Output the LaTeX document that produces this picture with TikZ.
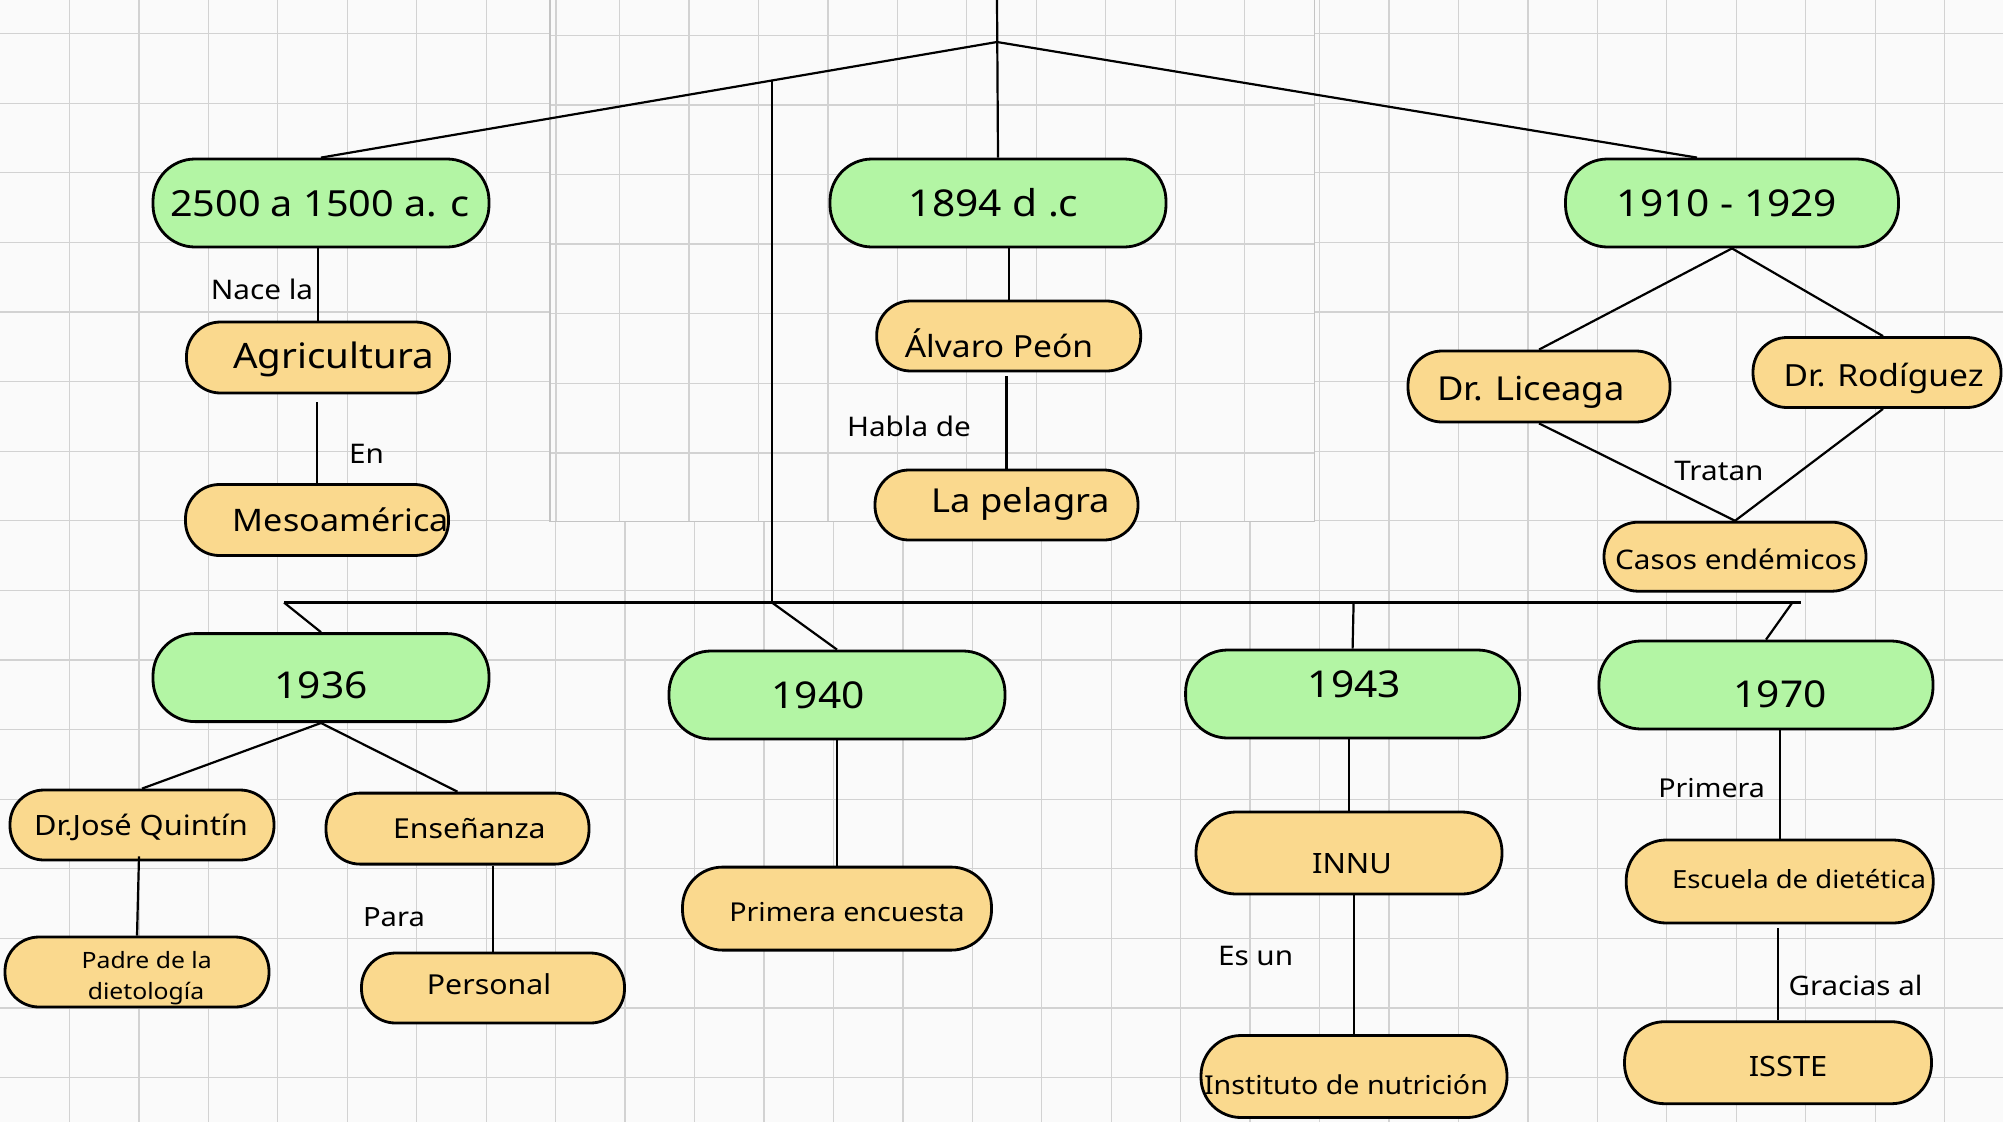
\documentclass[tikz,border=0pt]{standalone}
\usepackage{fontspec}
\setmainfont{Noto Sans}[FakeStretch=1.1]
\usetikzlibrary{calc}
\definecolor{gfill}{HTML}{B3F5A4}
\definecolor{ofill}{HTML}{FAD98E}
\definecolor{gridc}{HTML}{D2D2D2}
\definecolor{edgec}{HTML}{C4C4C4}
\definecolor{bgc}{HTML}{FAFAFA}
\newcommand\fsz[1]{\fontsize{#1}{#1}\selectfont}
\tikzset{
  gridline/.style={draw=gridc, line width=1.3pt},
  pill/.style={draw=black, line width=2.8pt, inner sep=0pt, minimum width=#1},
  gbox/.style={pill=336pt, fill=gfill, minimum height=88pt, rounded corners=42pt},
  obox/.style={pill=263pt, fill=ofill, minimum height=70pt, rounded corners=34pt},
  bbox/.style={pill=307pt, fill=ofill, minimum height=82pt, rounded corners=40pt},
  txt/.style={anchor=base, inner sep=0pt},
  link/.style={draw=black, line width=2.2pt},
}
\begin{document}
\begin{tikzpicture}[x=1pt,y=-1pt]
\useasboundingbox (0,0) rectangle (2003,1122);
\fill[bgc] (0,0) rectangle (2003,1122);
% main grid
\foreach \i in {1,...,28} { \draw[gridline] (\i*69.45,0) -- (\i*69.45,1122); }
\foreach \j in {0,...,15} { \draw[gridline] (0,33.6+\j*69.6) -- (2003,33.6+\j*69.6); }
% pasted panel with its own grid
\fill[bgc] (551,0) rectangle (1314,521);
\foreach \k in {9,...,18} { \draw[gridline] (\k*69.45-5.5,0) -- (\k*69.45-5.5,521); }
\foreach \j in {0,...,6} { \draw[gridline] (550,35.3+\j*69.6) -- (1314.5,35.3+\j*69.6); }
\draw[gridline] (556,0) -- (556,521);
\draw[draw=edgec, line width=1.6pt] (550,0) -- (550,521.5) -- (1314.5,521.5) -- (1314.5,0);

% green boxes
\node[gbox] (n1) at (321,203) {};
\node[gbox] (n2) at (998,203) {};
\node[gbox, minimum width=333pt] (n3) at (1732,203) {};
\node[gbox] (g4) at (321,677.6) {};
\node[gbox] (g5) at (837,695) {};
\node[gbox, minimum width=334pt] (g6) at (1352.6,694) {};
\node[gbox, minimum width=334pt] (g7) at (1766,685) {};
% orange boxes
\node[obox, minimum height=71pt] (o1) at (318,357.5) {};
\node[obox, minimum height=71pt] (o2) at (317,520) {};
\node[obox, minimum width=264pt] (o3) at (1008.7,336) {};
\node[obox] (o4) at (1006.5,505) {};
\node[obox, minimum width=262pt, minimum height=71pt] (o5) at (1539,386.5) {};
\node[obox, minimum width=248pt] (o6) at (1877,372.5) {};
\node[obox, minimum width=262pt, minimum height=69pt] (o7) at (1735,556.7) {};
\node[obox, minimum width=264pt] (o8) at (142,825) {};
\node[obox, minimum height=71pt] (o9) at (457.5,828.6) {};
\node[obox, minimum width=264pt] (o10) at (137,972) {};
\node[obox] (o11) at (493,988) {};
\node[bbox, minimum width=309pt, minimum height=83pt] (o12) at (837,908.6) {};
\node[bbox, minimum width=306pt] (o13) at (1349,853) {};
\node[bbox, minimum width=306pt] (o14) at (1354,1076.5) {};
\node[bbox, minimum height=83pt] (o15) at (1779.7,881.5) {};
\node[bbox] (o16) at (1778,1062.7) {};

% connectors
\coordinate (top) at (997,0);
\coordinate (hub) at (997,42);
\coordinate (barL) at (284,602.5);
\coordinate (barR) at (1801,602.5);
\coordinate (b3) at (1353.6,602.5);
\coordinate (b4) at (1792.4,602.5);
\coordinate (j1) at ($(hub)!0.333!(n1.north)$);
\coordinate (j2) at (j1 |- barL);
\draw[link] (top) -- (n2.north);
\draw[link] (hub) -- (n1.north);
\draw[link] (hub) -- ($(n3.north)+(-35,0)$);
\draw[link] (j1) -- (j2);
\draw[link] (barL) -- (barR);
\draw[link] (barL) -- (g4.north);
\draw[link] (j2) -- (g5.north);
\draw[link] (b3) -- (g6.north);
\draw[link] (b4) -- (g7.north);

\draw[link] (o1.north |- n1.south) -- (o1.north);
\draw[link] ($(o2.north |- o1.south)+(0,8)$) -- (o2.north);
\draw[link] (o3.north |- n2.south) -- (o3.north);
\draw[link] ($(o4.north |- o3.south)+(0,4)$) -- (o4.north);
\draw[link] (n3.south) -- (o5.north);
\draw[link] (n3.south) -- ($(o6.north)+(6,0)$);
\draw[link] (o5.south) -- (o7.north);
\draw[link] ($(o6.south)+(6,0)$) -- (o7.north);

\draw[link] (g4.south) -- (o8.north);
\draw[link] (g4.south) -- (o9.north);
\draw[link] ($(o8.south)+(-3,-5)$) -- (o10.north);
\draw[link] (o11.north |- o9.south) -- (o11.north);
\draw[link] (g5.south) -- (o12.north);
\draw[link] (o13.north |- g6.south) -- (o13.north);
\draw[link] (o14.north |- o13.south) -- (o14.north);
\draw[link] (o15.north |- g7.south) -- (o15.north);
\draw[link] ($(o16.north |- o15.south)+(0,4)$) -- (o16.north);

% box texts
\node[txt, font=\fsz{36}] (t1) at (320,216) {2500 a 1500 a. c};
\node[txt, font=\fsz{37}] (t2) at (993.6,216) {1894 d .c};
\node[txt, font=\fsz{37}] (t3) at (1727,216) {1910 - 1929};
\node[txt, font=\fsz{37}] (t4) at (321,698) {1936};
\node[txt, font=\fsz{37}] (t5) at (818,708) {1940};
\node[txt, font=\fsz{37}] (t6) at (1354.5,697.5) {1943};
\node[txt, font=\fsz{37}] (t7) at (1780,707) {1970};
\node[txt, font=\fsz{35}] (u1) at (333.7,368) {Agricultura};
\node[txt, font=\fsz{31}] (u2) at (340.8,531) {Mesoamérica};
\node[txt, font=\fsz{30.5}] (u3) at (999,357.8) {Álvaro Peón};
\node[txt, font=\fsz{33}] (u4) at (1021,512) {La pelagra};
\node[txt, font=\fsz{33}] (u5) at (1531,400) {Dr. Liceaga};
\node[txt, font=\fsz{30.5}] (u6) at (1883.6,386.5) {Dr. Rodíguez};
\node[txt, font=\fsz{27}] (u7) at (1736,569) {Casos endémicos};
\node[txt, font=\fsz{28}] (u8) at (141,835) {Dr.José Quintín};
\node[txt, font=\fsz{27.5}] (u9) at (469.4,838.6) {Enseñanza};
\node[txt, font=\fsz{22.5}] (u10a) at (146.7,968.9) {Padre de la};
\node[txt, font=\fsz{22.5}] (u10b) at (146,999.3) {dietología};
\node[txt, font=\fsz{27.5}] (u11) at (489,994) {Personal};
\node[txt, font=\fsz{26}] (u12) at (847,921.5) {Primera encuesta};
\node[txt, font=\fsz{28}] (u13) at (1352,873.8) {INNU};
\node[txt, font=\fsz{26}] (u14) at (1346,1094) {Instituto de nutrición};
\node[txt, font=\fsz{25}] (u15) at (1799,888.3) {Escuela de dietética};
\node[txt, font=\fsz{28}] (u16) at (1788,1076.7) {ISSTE};

% connector labels
\node[txt, font=\fsz{27}] (l1) at (262,299) {Nace la};
\node[txt, font=\fsz{27}] (l2) at (366.6,463) {En};
\node[txt, font=\fsz{27}] (l3) at (909,436) {Habla de};
\node[txt, font=\fsz{27}] (l4) at (1719,480) {Tratan};
\node[txt, font=\fsz{26.5}] (l5) at (394,926.7) {Para};
\node[txt, font=\fsz{27}] (l6) at (1255.6,965.4) {Es un};
\node[txt, font=\fsz{26}] (l7) at (1711.6,797) {Primera};
\node[txt, font=\fsz{26.8}] (l8) at (1855.5,995.8) {Gracias al};
\end{tikzpicture}
\end{document}
